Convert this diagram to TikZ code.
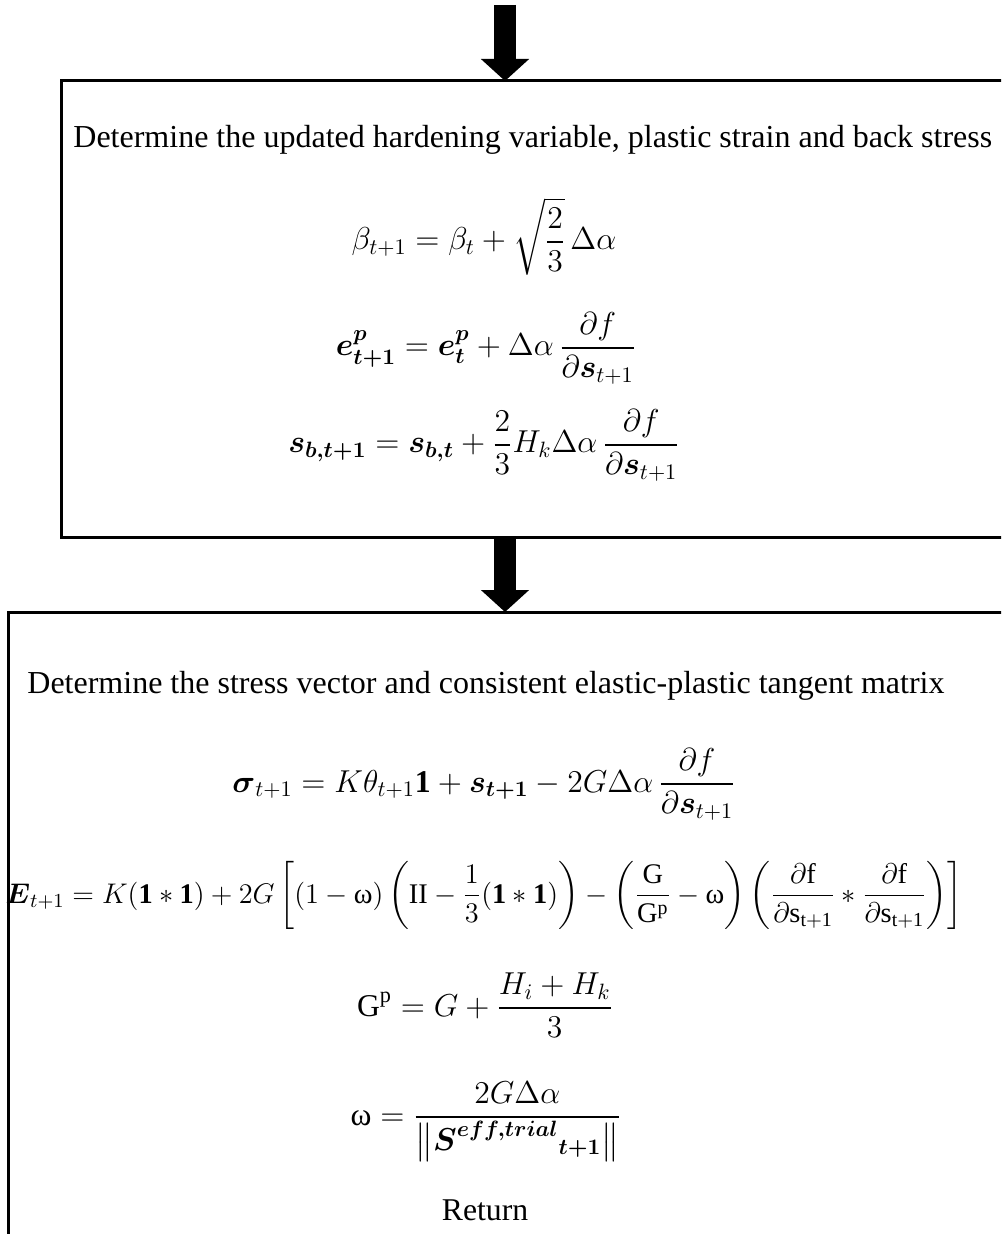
\RequirePackage{fix-cm}
\documentclass[tikz,border=0pt]{standalone}
\usepackage{amsmath, amssymb}
\usepackage{fontspec}
\setmainfont{Liberation Serif}
\usepackage{xcolor}
\usepackage{tikz}
\usetikzlibrary{arrows.meta}

\newcommand{\romega}{\text{ω}}

\begin{document}
\begin{tikzpicture}[x=0.5pt, y=-0.5pt,
  flow/.style={line width=11pt, -{Triangle[width=23.5pt, length=11pt]}},
  frame/.style={line width=1.5pt},
  steptitle/.style={anchor=base west, inner sep=0pt, font=\fontsize{16}{19}\selectfont},
  formula/.style={anchor=base, inner sep=0pt, font=\fontsize{15.85}{19}\selectfont}]

\useasboundingbox (0,0) rectangle (1001,1234);
\clip (0,0) rectangle (1001,1234);

\coordinate (start) at (505,5);
\coordinate (updtop) at (505,81);
\coordinate (updbot) at (505,537);
\coordinate (strtop) at (505,612);

\draw[frame] (61,81) rectangle (1020,537);
\draw[frame] (8,1250) -- (8,612) -- (1020,612);

\draw[flow] (start) -- (updtop);
\draw[flow] (updbot) -- (strtop);

\node[steptitle] (updtitle) at (73,148) {Determine the updated hardening variable, plastic strain and back stress};
\node[formula] (beta) at (484,250) {$\displaystyle \beta_{t+1} = \beta_t + \sqrt{\frac{2}{3}}\,\Delta\alpha$};
\node[formula] (ep) at (486,356) {$\displaystyle \boldsymbol{e^{p}_{t+1}} = \boldsymbol{e^{p}_{t}} + \Delta\alpha\,\frac{\partial f}{\partial \boldsymbol{s}_{t+1}}$};
\node[formula] (sb) at (484,453) {$\displaystyle \boldsymbol{s_{b,t+1}} = \boldsymbol{s_{b,t}} + \frac{2}{3}H_k\Delta\alpha\,\frac{\partial f}{\partial \boldsymbol{s}_{t+1}}$};

\node[steptitle] (strtitle) at (27,693) {Determine the stress vector and consistent elastic-plastic tangent matrix};
\node[formula] (sigma) at (484,792) {$\displaystyle \boldsymbol{\sigma}_{t+1} = K\theta_{t+1}\mathbf{1} + \boldsymbol{s_{t+1}} - 2G\Delta\alpha\,\frac{\partial f}{\partial \boldsymbol{s}_{t+1}}$};
\node[formula, font=\fontsize{14.2}{17}\selectfont] (tangent) at (484,903) {$\displaystyle \boldsymbol{E}_{t+1} = K(\mathbf{1}\ast\mathbf{1}) + 2G\left[(1-\romega)\left(\mathrm{II}-\frac{1}{3}(\mathbf{1}\ast\mathbf{1})\right) - \left(\frac{\mathrm{G}}{\mathrm{G^{p}}}-\romega\right)\left(\frac{\partial\mathrm{f}}{\partial\mathrm{s}_{\mathrm{t+1}}}\ast\frac{\partial\mathrm{f}}{\partial\mathrm{s}_{\mathrm{t+1}}}\right)\right]$};
\node[formula] (gp) at (485,1016) {$\displaystyle \mathrm{G^{p}} = G + \frac{H_i + H_k}{3}$};
\node[formula] (omega) at (486,1125) {$\displaystyle \romega = \frac{2G\Delta\alpha}{\left\|{\boldsymbol{S}^{\boldsymbol{eff,trial}}}_{\boldsymbol{t+1}}\right\|}$};
\node[formula] (ret) at (485,1220) {Return};

\end{tikzpicture}
\end{document}
